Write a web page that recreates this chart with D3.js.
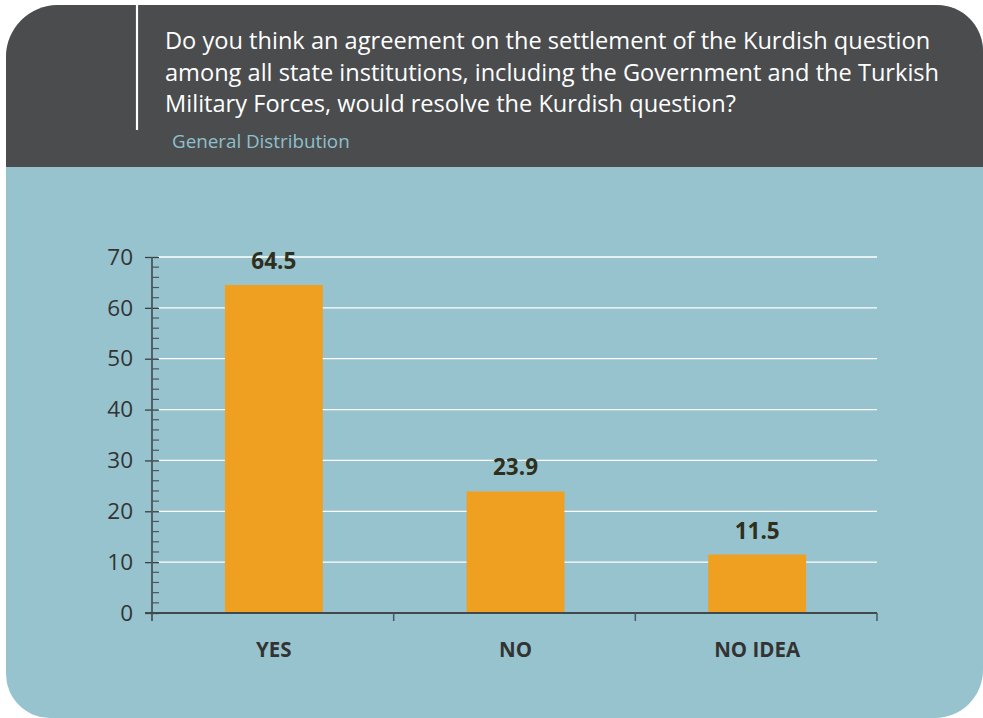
<!DOCTYPE html>
<html>
<head>
<meta charset="utf-8">
<script src="https://cdn.jsdelivr.net/npm/d3@7"></script>
<style>
  html, body { margin: 0; padding: 0; background: #ffffff; }
  svg { display: block; }
  text { font-family: "Open Sans", "Noto Sans", sans-serif; }
</style>
</head>
<body>
<svg id="chart" width="983" height="718"></svg>
<script>
// ---- data ----
const titleLines = [
  "Do you think an agreement on the settlement of the Kurdish question",
  "among all state institutions, including the Government and the Turkish",
  "Military Forces, would resolve the Kurdish question?"
];
const subtitle = "General Distribution";
const categories = ["YES", "NO", "NO IDEA"];
const values = [64.5, 23.9, 11.5];
const valueLabels = ["64.5", "23.9", "11.5"];
const yTicks = [0, 10, 20, 30, 40, 50, 60, 70];
const yMinorTicks = d3.range(0, 71, 2).filter(v => v % 10 !== 0);

// ---- setup ----
const svg = d3.select("#chart");
const W = 983, H = 718;

function roundedPath(x0, y0, x1, y1, rtl, rtr, rbr, rbl) {
  return `M${x0 + rtl},${y0} L${x1 - rtr},${y0} A${rtr},${rtr} 0 0 1 ${x1},${y0 + rtr}` +
    ` L${x1},${y1 - rbr} A${rbr},${rbr} 0 0 1 ${x1 - rbr},${y1}` +
    ` L${x0 + rbl},${y1} A${rbl},${rbl} 0 0 1 ${x0},${y1 - rbl}` +
    ` L${x0},${y0 + rtl} A${rtl},${rtl} 0 0 1 ${x0 + rtl},${y0} Z`;
}
const defs = svg.append("defs");
defs.append("clipPath").attr("id", "card")
  .append("path").attr("d", roundedPath(6, 5, 983, 718, 52, 46, 48, 44));

const card = svg.append("g").attr("clip-path", "url(#card)");
card.append("rect").attr("x", 0).attr("y", 0).attr("width", W).attr("height", H).attr("fill", "#97c3cf");
card.append("rect").attr("x", 0).attr("y", 0).attr("width", W).attr("height", 167).attr("fill", "#4b4c4e");

// vertical white line in header
svg.append("line").attr("x1", 137).attr("x2", 137).attr("y1", 5).attr("y2", 130)
  .attr("stroke", "#ffffff").attr("stroke-width", 2.2);

// title
const title = svg.append("g");
titleLines.forEach((t, i) => {
  title.append("text").attr("x", 165).attr("y", 49 + i * 31.5)
    .attr("fill", "#ffffff").attr("font-size", 23.6).text(t);
});
svg.append("text").attr("x", 172).attr("y", 148)
  .attr("fill", "#8fc0cc").attr("font-size", 18.8).text(subtitle);

// ---- scales ----
const x = d3.scaleBand().domain(categories).range([152, 877]).padding(0);
const y = d3.scaleLinear().domain([0, 70]).range([613, 257]);
const barW = x.bandwidth() * 0.405;

// gridlines
svg.append("g").selectAll("line").data(yTicks.filter(v => v > 0)).join("line")
  .attr("x1", 158).attr("x2", 877)
  .attr("y1", d => y(d)).attr("y2", d => y(d))
  .attr("stroke", "#ffffff").attr("stroke-width", 1.3);

// bars
svg.append("g").selectAll("rect").data(values).join("rect")
  .attr("x", (d, i) => x(categories[i]) + x.bandwidth() / 2 - barW / 2 + 1)
  .attr("width", barW)
  .attr("y", d => y(d))
  .attr("height", d => y(0) - y(d))
  .attr("fill", "#f0a020");

// value labels
svg.append("g").selectAll("text").data(values).join("text")
  .attr("x", (d, i) => x(categories[i]) + x.bandwidth() / 2 + 1)
  .attr("y", d => y(d) - 16)
  .attr("text-anchor", "middle")
  .attr("font-weight", "bold").attr("font-size", 22.5)
  .attr("fill", "#2e2f1c")
  .text((d, i) => valueLabels[i]);

// y axis
const yAxis = svg.append("g").attr("transform", "translate(152,0)")
  .call(d3.axisLeft(y).tickValues(yTicks).tickSize(7).tickPadding(12).tickFormat(d3.format("d")));
yAxis.select(".domain").remove();
yAxis.selectAll(".tick line").attr("x2", -7).attr("x1", 7).attr("stroke", "#3a3f42").attr("stroke-width", 1.3);
yAxis.selectAll(".tick text").attr("font-size", 22.5).attr("fill", "#333333")
  .attr("font-family", "'Open Sans', sans-serif");
svg.append("line").attr("x1", 152).attr("x2", 152).attr("y1", y(70)).attr("y2", 621)
  .attr("stroke", "#4a565b").attr("stroke-width", 1.8);
// minor ticks
svg.append("g").selectAll("line").data(yMinorTicks).join("line")
  .attr("x1", 152).attr("x2", 159)
  .attr("y1", d => y(d)).attr("y2", d => y(d))
  .attr("stroke", "#4a565b").attr("stroke-width", 1.2);

// x axis
svg.append("line").attr("x1", 145).attr("x2", 877).attr("y1", y(0)).attr("y2", y(0))
  .attr("stroke", "#3f4a4f").attr("stroke-width", 1.8);
const xTickPos = categories.map(c => x(c)).concat([x.range()[1]]);
svg.append("g").selectAll("line").data(xTickPos.slice(1)).join("line")
  .attr("x1", d => d).attr("x2", d => d)
  .attr("y1", y(0)).attr("y2", 621)
  .attr("stroke", "#4a565b").attr("stroke-width", 1.5);

// category labels
svg.append("g").selectAll("text").data(categories).join("text")
  .attr("x", d => x(d) + x.bandwidth() / 2 + 1)
  .attr("y", 657)
  .attr("text-anchor", "middle")
  .attr("font-weight", "bold").attr("font-size", 20.5)
  .attr("fill", "#333333")
  .text(d => d);
</script>
</body>
</html>
